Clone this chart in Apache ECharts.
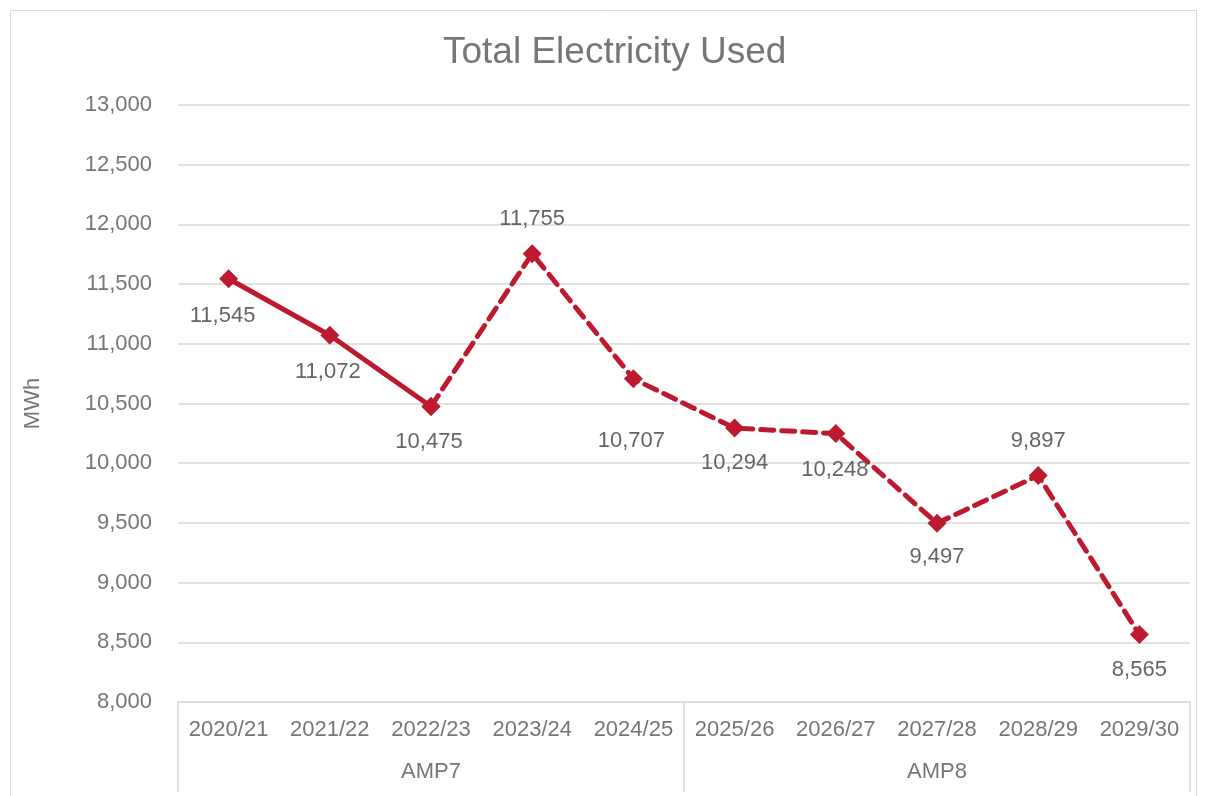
<!DOCTYPE html>
<html>
<head>
<meta charset="utf-8">
<title>Total Electricity Used</title>
<script src="https://cdn.jsdelivr.net/npm/echarts@6/dist/echarts.min.js"></script>
<style>
  html, body { margin: 0; padding: 0; background: #fff; }
  #main { width: 1206px; height: 796px; }
</style>
</head>
<body>
<div id="main"></div>
<script>
// chart data
var years = ['2020/21', '2021/22', '2022/23', '2023/24', '2024/25',
             '2025/26', '2026/27', '2027/28', '2028/29', '2029/30'];
var periods = ['AMP7', 'AMP8'];
var usage = [11545, 11072, 10475, 11755, 10707, 10294, 10248, 9497, 9897, 8565];
var actualCount = 3; // first 3 points drawn solid, rest dashed

var red = '#be1a2f';
var grey = '#767676';
var font = 'Liberation Sans, Arial, sans-serif';

// label offsets from each point (px)
var labelOffsets = [[-6, 37], [-2, 37], [-2, 35], [0, -35], [-2, 62],
                    [0, 35], [-1, 36], [0, 34], [0, -35], [0, 35]];

var solidData = usage.map(function (v, i) {
    if (i >= actualCount) return null;
    if (i === actualCount - 1) return v; // label comes from dashed series
    return { value: v, label: { show: true, offset: labelOffsets[i] } };
});
var dashData = usage.map(function (v, i) {
    if (i < actualCount - 1) return null;
    return { value: v, label: { show: true, offset: labelOffsets[i] } };
});

var labelStyle = {
    position: 'inside',
    color: '#656565',
    fontSize: 22,
    fontFamily: font,
    formatter: function (p) { return p.value.toLocaleString('en-US'); }
};

var chart = echarts.init(document.getElementById('main'));
chart.setOption({
    animation: false,
    title: {
        text: 'Total Electricity Used',
        left: 438,
        top: 29,
        textStyle: { color: grey, fontSize: 37, fontWeight: 'normal', fontFamily: font }
    },
    graphic: [{
        type: 'rect',
        shape: { x: 10.5, y: 10.5, width: 1186, height: 790 },
        style: { fill: 'none', stroke: '#d9d9d9', lineWidth: 1 },
        silent: true
    }],
    grid: { left: 178, right: 16, top: 105, bottom: 94 },
    xAxis: [{
        type: 'category',
        data: years,
        axisLine: { lineStyle: { color: '#d9d9d9', width: 1.5 } },
        axisTick: { show: false },
        axisLabel: { interval: 0, color: grey, fontSize: 22, margin: 17, fontFamily: font }
    }, {
        type: 'category',
        data: periods,
        position: 'bottom',
        axisLine: { show: false },
        axisTick: { show: true, length: 90, lineStyle: { color: '#d9d9d9', width: 1.5 } },
        axisLabel: { interval: 0, color: grey, fontSize: 22, margin: 59, fontFamily: font }
    }],
    yAxis: {
        type: 'value',
        min: 8000,
        max: 13000,
        interval: 500,
        name: 'MWh',
        nameLocation: 'middle',
        nameGap: 134,
        nameTextStyle: { color: grey, fontSize: 22, fontFamily: font },
        axisLine: { show: false },
        axisTick: { show: false },
        axisLabel: {
            color: grey,
            fontSize: 22,
            margin: 26,
            fontFamily: font,
            formatter: function (v) { return v.toLocaleString('en-US'); }
        },
        splitLine: { lineStyle: { color: '#d9d9d9', width: 1.5 } }
    },
    series: [{
        type: 'line',
        name: 'Actual',
        data: solidData,
        symbol: 'diamond',
        symbolSize: 19,
        itemStyle: { color: red },
        lineStyle: { color: red, width: 5 },
        label: labelStyle,
        z: 3
    }, {
        type: 'line',
        name: 'Forecast',
        data: dashData,
        symbol: 'diamond',
        symbolSize: 19,
        itemStyle: { color: red },
        lineStyle: { color: red, width: 5, type: [13, 8], cap: 'round' },
        label: labelStyle,
        z: 2
    }]
});
</script>
</body>
</html>
